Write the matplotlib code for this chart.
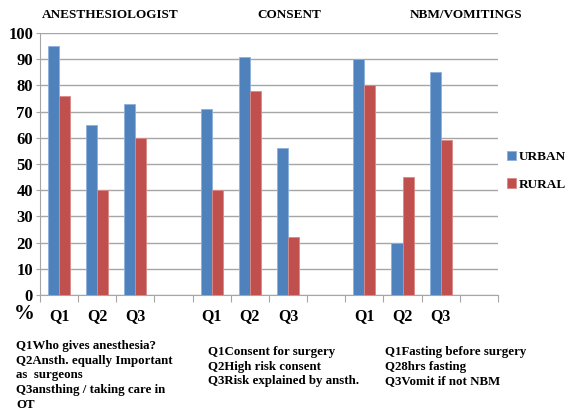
import matplotlib.pyplot as plt
import numpy as np

plt.rcParams["font.family"] = ["Liberation Serif", "DejaVu Serif"]
plt.rcParams["font.weight"] = "bold"

# 12 slots: three groups of Q1-Q3, each followed by an empty slot
slot_labels = ["Q1", "Q2", "Q3", "", "Q1", "Q2", "Q3", "", "Q1", "Q2", "Q3", ""]
urban = [95, 65, 73, np.nan, 71, 91, 56, np.nan, 90, 20, 85, np.nan]
rural = [76, 40, 60, np.nan, 40, 78, 22, np.nan, 80, 45, 59, np.nan]
group_titles = ["ANESTHESIOLOGIST", "CONSENT", "NBM/VOMITINGS"]
notes = [
    "Q1Who gives anesthesia?\nQ2Ansth. equally Important\nas  surgeons\nQ3ansthing / taking care in\nOT",
    "Q1Consent for surgery\nQ2High risk consent\nQ3Risk explained by ansth.",
    "Q1Fasting before surgery\nQ28hrs fasting\nQ3Vomit if not NBM",
]

blue = "#4F81BD"
red = "#C0504D"

fig = plt.figure(figsize=(5.71, 4.18), dpi=100)
ax = fig.add_axes([0.070, 0.294, 0.802, 0.627])

x = np.arange(len(slot_labels)) + 0.5
w = 0.29
ax.bar(x - w / 2, urban, w, color=blue, edgecolor="#8DB0DC", linewidth=0.6, label="URBAN", zorder=3)
ax.bar(x + w / 2, rural, w, color=red, edgecolor="#D98A88", linewidth=0.6, label="RURAL", zorder=3)

ax.set_xlim(0, 12)
ax.set_ylim(0, 100)
ax.set_yticks(range(0, 101, 10))
ax.yaxis.grid(True, color="#A6A6A6", linewidth=1.0, zorder=0)
ax.set_axisbelow(True)

ax.set_xticks(np.arange(0, 13))
ax.set_xticklabels([])
ax.set_xticks(x, minor=True)
ax.set_xticklabels(slot_labels, minor=True, fontsize=11.5, fontweight="bold")
ax.tick_params(axis="x", which="minor", length=0, pad=9)
ax.tick_params(axis="x", which="major", length=5, color="#A6A6A6", direction="out")
ax.tick_params(axis="y", labelsize=12, length=3, color="#A6A6A6", pad=2)
for lbl in ax.get_yticklabels():
    lbl.set_fontweight("bold")

for side in ["top", "right"]:
    ax.spines[side].set_visible(False)
for side in ["left", "bottom"]:
    ax.spines[side].set_color("#A6A6A6")

leg = ax.legend(loc="upper left", bbox_to_anchor=(1.02, 0.55), frameon=False,
                prop={"family": "Liberation Serif", "weight": "bold", "size": 9.5},
                handlelength=0.7, handleheight=0.7, handletextpad=0.2,
                labelspacing=1.15, borderaxespad=0, borderpad=0)

# group titles above the axes
title_x = [42, 257, 410]
for t, px in zip(group_titles, title_x):
    fig.text(px / 571, 1 - 15 / 418, t, fontsize=9.5, fontweight="bold", va="center", ha="left")

fig.text(14 / 571, 1 - 314 / 418, "%", fontsize=15, fontweight="bold", va="center", ha="left")

note_pos = [(16, 340), (208, 346), (385, 346)]
for txt, (px, py) in zip(notes, note_pos):
    fig.text(px / 571, 1 - py / 418, txt, fontsize=9.3, fontweight="bold", va="top", ha="left",
             linespacing=1.3)

fig.savefig("out.png", dpi=100)
